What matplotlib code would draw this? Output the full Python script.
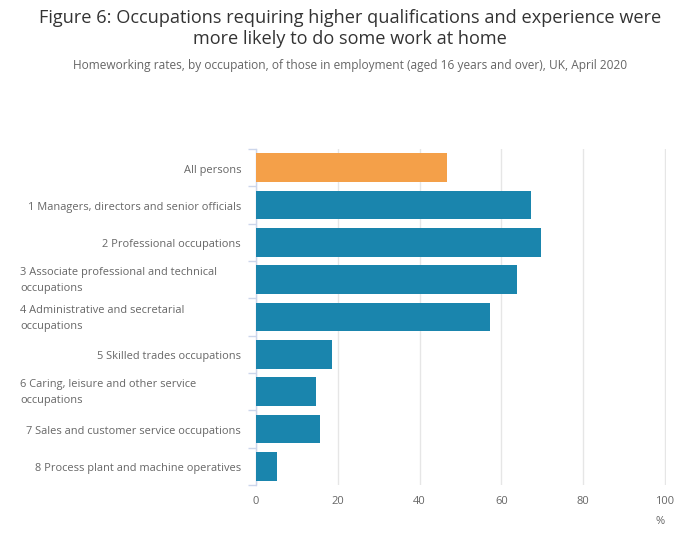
import matplotlib
matplotlib.use('Agg')
from matplotlib import pyplot as plt
from matplotlib import transforms
import numpy as np

plt.rcParams['font.family'] = ['Open Sans', 'DejaVu Sans']

categories = ['All persons',
              '1 Managers, directors and senior officials',
              '2 Professional occupations',
              '3 Associate professional and technical\noccupations',
              '4 Administrative and secretarial\noccupations',
              '5 Skilled trades occupations',
              '6 Caring, leisure and other service\noccupations',
              '7 Sales and customer service occupations',
              '8 Process plant and machine operatives']
rates = [46.6, 67.2, 69.7, 63.8, 57.2, 18.6, 14.7, 15.7, 5.1]
xticks = [0, 20, 40, 60, 80, 100]

orange = '#f4a049'
blue = '#1a85ad'
grey = '#666666'
axis_col = '#ccd6eb'

fig = plt.figure(figsize=(7, 5.41), dpi=100)
# x range a touch past 100 so the last gridline is not clipped
ax = fig.add_axes([256/700, 56/541, (666-256)/700, (485-149)/541])

y = np.arange(len(categories))
colors = [orange] + [blue]*(len(categories)-1)
ax.barh(y, rates, height=0.77, color=colors, zorder=3)

ax.set_xlim(0, 100.25)
ax.set_ylim(len(categories)-0.5, -0.5)
ax.set_xticks(xticks)
ax.set_xticklabels([str(t) for t in xticks])
ax.tick_params(axis='x', length=0, colors=grey, labelsize=8, pad=8)
ax.grid(axis='x', color='#e6e6e6', linewidth=1, zorder=0)

ax.set_yticks(np.arange(len(categories)+1)-0.5)
ax.set_yticklabels([])
ax.tick_params(axis='y', length=6, width=1, color=axis_col, direction='out')

for s in ['top', 'right', 'bottom']:
    ax.spines[s].set_visible(False)
ax.spines['left'].set_color(axis_col)
ax.spines['left'].set_linewidth(1)

tr = transforms.blended_transform_factory(fig.transFigure, ax.transData)
for i, lab in enumerate(categories):
    if '\n' in lab:
        ax.text(20/700, i + 0.03, lab, transform=tr, ha='left', va='center',
                fontsize=7.9, color=grey, linespacing=1.6)
    else:
        ax.text(241/700, i + 0.03, lab, transform=tr, ha='right', va='center_baseline',
                fontsize=7.9, color=grey)

fig.text(660/700, 1-521/541, '%', ha='center', va='center', fontsize=8, color=grey)

fig.text(0.5, 1-28.5/541, 'Figure 6: Occupations requiring higher qualifications and experience were\nmore likely to do some work at home',
         ha='center', va='center', fontsize=13.1, color='#333333', linespacing=1.2)
fig.text(0.5, 1-65/541, 'Homeworking rates, by occupation, of those in employment (aged 16 years and over), UK, April 2020',
         ha='center', va='center', fontsize=8.6, color=grey)

fig.savefig('out.png', dpi=100)
